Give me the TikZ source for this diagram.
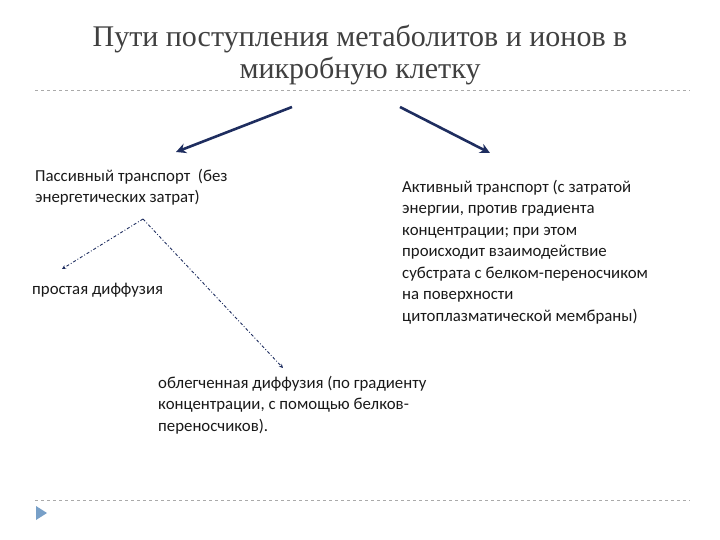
\documentclass[tikz,border=0pt]{standalone}
\usepackage{fontspec}
\setmainfont{Carlito}
\newfontfamily\titlefont{Liberation Serif}
\usetikzlibrary{arrows.meta}
\definecolor{navy}{RGB}{30,45,95}
\definecolor{sep}{RGB}{170,170,170}
\definecolor{tri}{RGB}{120,160,200}
\tikzset{
  body/.style={anchor=north west,inner sep=0pt,font=\fontsize{16.8}{21.5}\selectfont,align=left,text=black!90},
  bigarrow/.style={navy,line width=2.6pt,-{Stealth[length=10pt,width=10pt]}},
  dd/.style={navy,line width=0.9pt,dash dot,-{Stealth[length=4pt,width=4pt]}},
  sepline/.style={sep,dashed,line width=0.7pt}
}
\begin{document}
\begin{tikzpicture}[x=1pt,y=-1pt]
\useasboundingbox (0,0) rectangle (720,540);
\node[font=\titlefont\fontsize{30}{32}\selectfont,text=black!75,align=center] (title) at (360,55) {Пути поступления метаболитов и ионов в\\ микробную клетку};
\coordinate (s1) at (35,90); \coordinate (s2) at (690,90);
\draw[sepline] (s1) -- (s2);
\coordinate (b1) at (35,500); \coordinate (b2) at (690,500);
\draw[sepline] (b1) -- (b2);
\fill[tri] (36,506) -- (47,513) -- (36,520) -- cycle;
\coordinate (la) at (292,107); \coordinate (lb) at (176,152);
\coordinate (ra) at (400,107); \coordinate (rb) at (490,153);
\draw[bigarrow] (la) -- (lb);
\draw[bigarrow] (ra) -- (rb);
\node[body] (pass) at (35,169) {Пассивный транспорт \ (без\\энергетических затрат)};
\node[body] (act) at (402,180) {Активный транспорт (с затратой\\энергии, против градиента\\концентрации; при этом\\происходит взаимодействие\\субстрата с белком-переносчиком\\на поверхности\\цитоплазматической мембраны)};
\node[body] (simp) at (32,283) {простая диффузия};
\node[body] (fac) at (158,376) {облегченная диффузия (по градиенту\\концентрации, с помощью белков-\\переносчиков).};
\coordinate (apex) at (143,219);
\coordinate (e1) at (62,269); \coordinate (e2) at (283,368);
\draw[dd] (apex) -- (e1);
\draw[dd] (apex) -- (e2);
\end{tikzpicture}
\end{document}
